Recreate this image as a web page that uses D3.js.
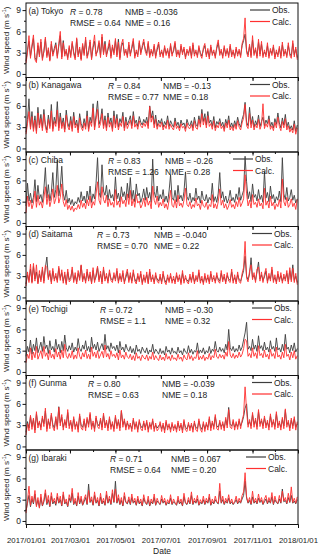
<!DOCTYPE html>
<html><head><meta charset="utf-8">
<script src="https://cdn.jsdelivr.net/npm/d3@7"></script>
<style>body{margin:0;background:#fff}svg{display:block;font-family:"Liberation Sans",Arial,sans-serif}</style>
</head><body><svg id="c" width="320" height="558"></svg>
<script>
// ---------------- DATA ----------------
const startDate = "2017-01-01";   // first sample; samples every 2 days
const stepDays = 2;
const stationNames = ["(a) Tokyo","(b) Kanagawa","(c) Chiba","(d) Saitama","(e) Tochigi","(f) Gunma","(g) Ibaraki"];
const statR    = ["0.78","0.84","0.83","0.73","0.72","0.80","0.71"];
const statRMSE = ["0.64","0.77","1.26","0.70","1.1","0.63","0.64"];
const statNMB  = ["-0.036","-0.13","-0.26","-0.040","-0.30","-0.039","0.067"];
const statNME  = ["0.16","0.18","0.28","0.22","0.32","0.18","0.20"];
const yTickValues = [0,3,6,9];
const yMinorValues = [1.5,4.5,7.5];
const xTickLabels = ["2017/01/01","2017/03/01","2017/05/01","2017/07/01","2017/09/01","2017/11/01","2018/01/01"];
const seriesNames = ["Obs.","Calc."];

const tokyoObs = [1.8,3.4,4.6,2.5,3.8,5.0,2.3,1.9,4.0,2.7, 4.5,2.2,3.1,4.9,2.6,3.4,2.0,4.2,2.8,3.6, 4.4,2.5,3.9,5.4,2.4,4.7,2.8,3.2,2.3,3.7, 2.6,4.3,3.1,2.3,4.9,2.7,3.5,2.1,4.0,2.9, 4.8,2.5,3.3,4.5,2.2,3.7,4.6,2.8,3.2,4.4, 2.6,5.2,3.0,4.6,2.7,3.4,4.3,2.5,3.8,3.0, 4.7,2.7,4.9,2.3,3.9,4.4,2.9,3.2,2.6,4.1, 2.8,3.6,4.6,2.5,3.1,2.7,4.4,3.0,3.7,4.5, 3.5,2.9,4.3,2.6,3.2,2.8,3.9,2.5,3.4,4.2, 2.7,3.1,2.6,3.7,2.9,3.3,2.5,4.0,2.8,3.2, 4.3,2.7,3.1,2.6,3.9,3.0,3.5,2.4,3.2,2.9, 3.6,2.5,4.1,2.8,3.1,2.6,3.7,3.0,2.5,3.4, 4.0,2.7,3.3,2.4,3.8,2.9,3.1,2.5,3.6,4.4, 2.9,3.2,2.5,3.7,2.8,3.3,2.6,3.9,2.7,3.1, 2.5,3.5,2.8,3.2,2.6,4.0,4.7,5.6,3.3,2.7, 3.9,2.6,4.8,2.9,3.4,2.5,4.5,2.8,4.2,2.6, 3.1,2.7,4.0,2.5,3.3,2.9,3.8,2.4,3.1,2.7, 3.6,2.5,4.1,2.8,3.2,2.6,4.0,2.9,2.5,4.3, 2.7,3.5,2.3];
const tokyoCalc = [1.5,3.0,5.4,2.2,4.1,5.5,2.0,1.6,4.4,2.4, 4.9,1.9,3.3,5.2,2.3,3.7,1.8,4.6,2.5,3.3, 4.1,2.2,4.3,6.0,2.1,4.4,2.5,3.5,2.0,4.0, 2.3,4.6,2.8,2.0,5.1,2.4,3.8,1.9,4.3,2.6, 5.2,2.2,3.0,4.8,2.0,4.0,5.5,2.5,3.5,4.7, 2.3,5.6,2.7,4.2,2.4,3.7,4.8,2.2,4.1,2.7, 5.0,2.4,4.5,2.0,4.2,4.9,2.6,3.5,2.3,4.5, 2.5,3.9,5.0,2.2,3.4,2.4,4.7,2.7,4.0,4.9, 3.2,2.6,4.6,2.3,3.5,2.5,4.2,2.2,3.7,4.5, 2.4,3.4,2.3,4.0,2.6,3.6,2.2,4.3,2.5,3.5, 4.6,2.4,3.4,2.3,4.2,2.7,3.8,2.1,3.5,2.6, 3.9,2.2,4.4,2.5,3.4,2.3,4.0,2.7,2.2,3.7, 4.3,2.4,3.6,2.1,4.1,2.6,3.4,2.2,3.9,4.8, 2.6,3.5,2.2,4.0,2.5,3.6,2.3,4.2,2.4,3.4, 2.2,3.8,2.5,3.5,2.3,4.3,5.0,7.9,3.0,2.4, 4.2,2.3,5.4,2.6,3.7,2.2,4.9,2.5,4.6,2.3, 3.4,2.4,4.4,2.2,3.6,2.6,4.1,2.1,3.4,2.4, 3.9,2.2,4.5,2.5,3.5,2.3,4.4,2.6,2.2,4.7, 2.4,3.8,2.0];

const kanagawaObs = [2.3,4.1,7.0,3.0,5.2,2.8,4.6,2.5,5.8,3.3, 4.8,2.9,5.5,3.4,2.6,4.7,3.1,6.2,2.8,4.4, 3.5,6.6,2.9,5.0,3.2,4.3,2.7,5.4,3.6,3.0, 4.5,2.8,5.1,3.3,4.0,2.6,4.9,3.5,2.9,4.2, 3.1,5.3,2.8,4.4,3.6,6.3,3.0,4.7,6.7,3.4, 4.1,5.6,3.2,4.6,2.9,5.0,3.5,4.3,2.8,5.3, 3.4,4.8,3.0,4.2,3.6,5.1,2.9,4.4,3.3,3.9, 4.6,3.2,5.2,3.5,4.0,3.1,4.5,3.7,3.3,4.1, 3.6,4.4,3.2,6.0,4.3,5.3,3.4,4.7,3.1,4.0, 3.5,4.2,3.0,3.8,3.3,4.6,3.1,3.9,3.4,3.0, 4.3,3.2,3.7,2.9,4.0,3.3,3.6,2.8,4.1,3.4, 3.2,3.9,2.9,4.4,3.4,3.1,4.6,3.5,5.5,3.8, 4.9,3.3,5.2,3.6,4.0,3.1,4.5,2.9,3.8,3.4, 4.2,3.2,3.7,2.8,4.1,3.3,4.6,3.0,3.6,2.9, 3.9,3.1,4.4,3.5,3.0,4.1,4.8,6.5,3.7,3.2, 5.8,3.4,4.5,3.0,3.9,3.3,4.7,3.1,3.8,4.4, 3.2,4.0,3.5,4.6,3.1,3.7,2.9,4.2,3.4,5.0, 3.6,2.9,4.3,3.3,4.8,3.0,3.7,2.7,3.2,2.6, 3.9,2.4,3.3];
const kanagawaCalc = [2.0,3.5,5.2,2.7,4.5,2.4,4.0,2.1,5.0,2.9, 4.2,2.5,4.8,3.0,2.2,4.1,2.8,5.3,2.4,3.8, 3.1,5.4,2.5,4.4,2.8,3.7,2.3,4.7,3.1,2.6, 3.9,2.4,4.5,2.9,3.5,2.2,4.3,3.0,2.5,3.6, 2.7,4.6,2.4,3.8,3.1,5.7,2.6,4.1,5.5,2.9, 3.5,4.9,2.8,4.0,2.5,4.4,3.0,3.7,2.4,4.6, 2.9,4.2,2.6,3.6,3.1,4.5,2.5,3.8,2.8,3.4, 4.0,2.8,4.6,3.0,3.5,2.7,3.9,3.2,2.9,3.6, 3.1,3.8,2.8,5.9,3.7,4.6,2.9,4.1,2.7,3.5, 3.0,3.7,2.6,3.3,2.8,4.0,2.7,3.4,2.9,2.6, 3.8,2.8,3.2,2.5,3.5,2.9,3.1,2.4,3.6,2.9, 2.8,3.4,2.5,3.9,2.9,2.7,4.1,3.0,4.9,3.3, 4.3,2.9,4.6,3.1,3.5,2.7,3.9,2.5,3.3,2.9, 3.7,2.8,3.2,2.4,3.6,2.9,4.0,2.6,3.1,2.5, 3.4,2.7,3.9,3.0,2.6,3.6,4.3,6.2,3.2,2.8, 5.0,2.9,4.0,2.6,3.4,2.9,4.1,2.7,3.3,6.3, 2.8,3.5,3.0,4.1,2.7,3.2,2.5,3.7,2.9,4.4, 3.1,2.5,3.8,2.9,4.2,2.6,3.2,2.3,2.8,2.2, 3.4,2.0,2.9];

const chibaObs = [2.4,5.6,3.1,4.2,2.8,3.6,6.1,3.0,5.3,3.4, 4.0,2.9,4.8,7.8,3.5,5.4,3.1,4.3,7.1,3.6, 4.7,8.9,3.8,5.0,8.0,4.1,3.2,4.6,2.8,3.5, 2.6,3.3,2.4,3.0,2.7,3.6,2.9,4.4,3.1,3.8, 2.8,4.5,3.3,5.2,2.9,4.1,3.4,5.6,9.2,4.3, 3.6,8.2,4.5,3.9,5.3,3.2,4.7,3.5,4.0,3.1, 6.5,3.4,4.2,3.0,5.1,3.7,4.4,3.2,5.6,3.5, 6.4,3.3,4.6,3.0,5.5,3.8,4.2,2.9,3.6,4.8, 3.2,5.0,3.5,4.3,2.9,9.0,4.4,3.6,5.2,3.1, 4.0,3.4,4.7,3.0,3.8,2.9,4.5,6.8,3.6,3.2, 4.6,3.0,5.3,3.4,3.9,3.1,4.4,7.2,3.7,3.2, 4.2,2.9,3.6,3.1,4.9,3.3,3.8,2.8,4.5,3.4, 3.1,4.0,2.8,3.6,3.2,5.6,3.0,3.7,2.9,4.2, 7.1,3.5,4.4,3.0,3.8,2.8,3.4,4.6,3.1,3.6, 2.9,4.1,3.3,5.0,3.2,3.9,4.6,9.4,5.8,3.4, 4.4,3.0,5.5,3.6,4.0,3.1,4.7,3.3,3.9,2.9, 7.2,3.5,4.3,3.0,5.2,3.4,4.0,2.8,3.7,3.2, 4.5,3.0,9.2,4.1,3.3,5.0,3.1,3.6,4.7,3.2, 3.9,2.8,3.4];
const chibaCalc = [1.4,3.8,2.3,3.2,2.0,2.8,4.5,2.2,3.9,2.5, 3.0,2.1,3.5,5.1,2.6,4.0,2.3,3.2,4.8,2.7, 3.4,5.3,2.8,3.6,5.5,3.0,2.3,3.3,1.9,2.5, 1.8,2.4,1.6,2.1,1.9,2.6,2.0,3.2,2.2,2.8, 2.0,3.3,2.4,3.8,2.1,3.0,2.5,4.1,5.8,3.2, 2.6,5.1,3.3,2.8,3.9,2.3,3.4,2.5,2.9,2.2, 4.7,2.5,3.1,2.2,3.7,2.7,3.2,2.3,4.1,2.6, 4.6,2.4,3.4,2.2,4.0,2.8,3.1,2.1,2.6,3.5, 2.3,3.6,2.5,3.1,2.0,5.2,3.2,2.6,3.8,2.2, 2.9,2.4,3.4,2.1,2.7,1.9,3.2,4.6,2.5,2.2, 3.3,2.1,3.9,2.4,2.8,2.2,3.2,4.9,2.6,2.3, 3.0,2.0,2.6,2.2,3.5,2.4,2.7,1.9,3.2,2.4, 2.2,2.9,1.9,2.6,2.3,4.0,2.1,2.7,2.0,3.0, 4.8,2.5,3.2,2.1,2.7,1.9,2.4,3.3,2.2,2.6, 2.0,3.0,2.3,3.6,2.3,2.8,3.4,6.8,4.1,2.4, 3.2,2.1,4.0,2.6,2.9,2.2,3.4,2.4,2.8,2.0, 4.9,2.5,3.1,2.1,3.8,2.4,2.9,1.9,2.7,2.3, 3.3,2.1,6.2,3.0,2.4,3.6,2.2,2.6,3.4,2.3, 2.8,1.9,3.3];

const saitamaObs = [1.9,3.2,2.4,4.0,2.2,4.4,2.6,3.6,2.1,3.3, 2.5,3.9,2.3,4.2,5.7,2.8,3.4,2.2,3.7,2.6, 3.0,2.4,4.1,2.7,3.5,2.3,3.2,2.0,3.6,2.5, 2.8,3.9,2.4,3.1,2.2,3.4,2.7,4.5,2.5,3.0, 2.3,3.6,2.6,3.2,2.1,3.8,2.4,2.9,4.2,2.5, 3.3,2.2,3.9,2.6,3.0,2.3,3.5,2.7,2.4,3.1, 2.6,3.7,2.3,3.0,2.5,3.4,2.2,2.8,3.6,2.4, 3.1,2.3,3.5,2.6,2.2,3.0,2.5,3.3,2.1,2.8, 2.4,3.2,2.1,3.6,2.5,2.8,2.2,3.1,2.6,2.3, 2.9,2.2,3.3,2.5,2.1,2.8,2.4,3.0,2.3,2.6, 2.2,3.1,2.5,2.8,2.1,3.4,2.3,2.7,2.5,2.2, 2.9,2.4,3.2,2.2,2.7,2.5,3.5,2.3,2.6,2.1, 3.0,2.4,2.8,2.2,3.3,2.5,2.7,2.3,3.1,2.6, 2.3,3.4,2.5,2.9,2.2,3.1,2.6,2.4,3.6,2.3, 2.8,2.2,3.2,2.5,2.3,3.0,3.8,5.8,3.0,2.5, 3.3,5.6,2.8,3.1,2.4,3.6,5.0,2.6,3.2,2.4, 2.9,3.7,2.3,3.0,2.6,3.9,2.4,2.8,2.2,3.3, 2.5,3.1,2.3,2.9,2.6,3.4,2.2,3.8,2.5,4.6, 2.4,3.0,2.1];
const saitamaCalc = [1.6,3.6,2.1,4.7,2.0,4.8,2.3,4.6,1.9,3.8, 2.2,4.3,2.0,4.5,4.2,2.5,3.8,1.9,4.1,2.3, 3.4,2.1,4.4,2.4,3.9,2.0,3.6,1.8,4.0,2.2, 2.5,4.3,2.1,3.5,1.9,3.8,2.4,4.6,2.2,3.4, 2.0,4.0,2.3,3.6,1.9,4.2,2.1,3.3,4.4,2.2, 3.7,1.9,4.3,2.3,3.4,2.0,3.9,2.4,2.1,3.5, 2.3,4.1,2.0,3.4,2.2,3.8,1.9,3.2,4.0,2.1, 3.5,2.0,3.9,2.3,1.9,3.4,2.2,3.7,1.8,3.2, 2.1,3.6,1.9,4.0,2.2,3.2,1.9,3.5,2.3,2.0, 3.3,1.9,3.7,2.2,1.8,3.2,2.1,3.4,2.0,3.0, 1.9,3.5,2.2,3.2,1.8,3.8,2.0,3.1,2.2,1.9, 3.3,2.1,3.6,1.9,3.1,2.2,3.9,2.0,3.0,1.8, 3.4,2.1,3.2,1.9,3.7,2.2,3.1,2.0,3.5,2.3, 2.0,3.8,2.2,3.3,1.9,3.5,2.3,2.1,4.0,2.0, 3.2,1.9,3.6,2.2,2.0,3.4,4.2,7.9,2.7,2.2, 3.7,4.6,2.5,3.5,2.1,4.0,4.3,2.3,3.6,2.1, 3.3,4.1,2.0,3.4,2.3,4.3,2.1,3.2,1.9,3.7, 2.2,3.5,2.0,3.3,2.3,3.8,1.9,4.2,2.2,4.1, 2.1,3.4,1.8];

const tochigiObs = [2.2,3.6,2.8,4.5,2.5,3.9,3.0,4.8,2.7,3.4, 4.2,2.9,5.0,3.3,3.8,2.6,4.4,3.1,3.6,2.8, 4.6,3.2,3.9,2.7,4.3,3.0,5.2,3.4,2.9,3.7, 3.1,4.1,2.8,3.5,3.0,4.7,3.3,2.9,3.8,3.2, 4.4,3.0,3.6,2.8,4.9,3.3,3.9,3.1,4.2,2.9, 3.5,4.0,3.1,5.3,3.2,3.7,2.9,4.1,3.3,3.6, 3.0,3.8,2.7,4.3,3.1,3.5,2.8,3.9,3.2,2.9, 3.6,2.7,3.3,2.5,3.8,2.9,3.2,2.6,3.5,3.0, 2.7,3.4,2.5,3.1,2.8,3.9,2.6,3.2,2.9,2.5, 3.3,2.6,3.0,2.4,3.6,2.8,3.1,2.5,3.4,2.7, 2.9,2.5,3.5,2.7,3.0,2.4,3.3,2.8,2.6,3.7, 2.7,3.2,2.5,3.0,2.8,4.1,2.6,3.1,2.7,3.4, 2.5,3.0,2.7,3.6,2.6,3.2,2.9,4.3,3.0,2.8, 3.5,2.9,3.3,2.7,3.9,3.1,6.0,3.4,3.0,3.6, 2.8,3.3,2.9,3.8,3.0,3.5,4.5,5.5,7.0,3.2, 3.6,3.0,4.6,3.2,3.8,2.9,5.1,3.3,3.7,3.0, 4.2,3.1,3.5,2.8,4.4,3.2,3.6,2.9,4.8,3.1, 3.4,2.8,3.9,3.0,5.3,3.2,3.5,2.7,3.8,3.0, 4.1,2.8,3.3];
const tochigiCalc = [1.3,2.5,1.9,3.4,1.7,2.8,2.0,3.6,1.8,2.4, 3.0,1.9,3.6,2.2,2.7,1.7,3.1,2.0,2.5,1.8, 3.3,2.1,2.8,1.8,3.1,2.0,3.9,2.3,1.9,2.6, 2.0,3.0,1.8,2.4,1.9,3.4,2.2,1.8,2.7,2.1, 3.1,1.9,2.5,1.8,3.5,2.2,2.8,2.0,3.0,1.9, 2.4,2.9,2.0,3.8,2.1,2.6,1.8,3.0,2.2,2.5, 2.0,2.7,1.7,3.1,2.0,2.4,1.8,2.8,2.1,1.9, 2.5,1.7,2.3,1.6,2.7,1.9,2.2,1.6,2.4,2.0, 1.8,2.4,1.6,2.2,1.8,2.8,1.7,2.3,1.9,1.6, 2.4,1.7,2.1,1.6,2.6,1.8,2.2,1.6,2.4,1.8, 2.0,1.6,2.5,1.8,2.1,1.5,2.4,1.9,1.7,2.7, 1.8,2.3,1.6,2.1,1.9,3.0,1.7,2.2,1.8,2.4, 1.6,2.1,1.8,2.6,1.7,2.3,2.0,3.2,2.1,1.9, 2.5,2.0,2.4,1.8,2.8,2.2,4.3,2.4,2.0,2.6, 1.9,2.4,2.0,2.8,2.1,2.5,3.3,4.6,4.4,2.2, 2.6,2.0,3.4,2.2,2.7,1.9,3.7,2.3,2.6,2.0, 3.1,2.1,2.5,1.8,3.2,2.2,2.6,1.9,3.5,2.1, 2.4,1.8,2.8,2.0,3.9,2.2,2.5,1.7,2.8,2.0, 3.0,1.8,2.3];

const gunmaObs = [2.0,3.5,2.6,4.2,2.8,3.8,2.3,4.6,3.0,3.4, 2.7,4.0,3.2,5.0,2.5,3.6,2.9,4.4,3.1,2.6, 3.9,2.8,5.6,3.3,4.1,2.7,3.5,3.0,4.8,2.9, 3.4,2.5,3.9,2.8,3.2,2.4,4.3,3.0,2.7,3.6, 2.6,3.8,3.1,4.5,2.8,3.3,2.5,4.0,3.2,2.9, 3.7,2.7,4.4,3.0,3.4,2.6,3.9,2.8,3.2,2.5, 4.1,2.9,3.5,2.6,5.0,3.1,3.6,2.7,3.3,2.8, 3.0,2.5,3.7,2.8,3.2,2.4,3.5,2.9,2.6,3.3, 2.7,3.4,2.4,3.1,2.8,3.6,2.5,3.0,2.6,2.9, 3.2,2.5,3.0,2.3,3.4,2.7,2.9,2.4,3.1,2.6, 2.8,2.4,3.3,2.6,3.0,2.3,3.5,2.7,2.5,3.1, 2.6,3.0,2.4,3.3,2.7,2.5,3.6,2.8,2.4,3.2, 2.5,3.1,2.7,3.9,2.6,3.3,2.8,4.2,2.9,2.7, 3.4,2.8,3.2,2.6,3.8,3.0,5.5,3.1,2.9,3.5, 2.7,3.2,2.8,3.6,2.9,3.4,4.2,5.4,6.0,3.1, 3.5,2.9,4.5,3.1,3.7,2.8,4.9,3.2,3.6,2.9, 4.0,3.0,3.4,2.7,4.3,3.1,3.5,2.8,4.6,3.0, 3.3,2.7,3.8,2.9,5.1,3.1,3.4,2.6,3.7,2.9, 3.9,2.7,3.2];
const gunmaCalc = [1.6,3.2,2.2,4.4,2.4,4.0,1.9,4.9,2.6,3.6, 2.3,4.3,2.8,5.4,2.1,3.9,2.5,4.7,2.7,2.2, 4.2,2.4,5.5,2.9,4.5,2.3,3.8,2.6,5.2,2.5, 3.7,2.1,4.2,2.4,3.5,2.0,4.6,2.6,2.3,3.9, 2.2,4.1,2.7,4.8,2.4,3.6,2.1,4.3,2.8,2.5, 4.0,2.3,4.7,2.6,3.7,2.2,4.2,2.4,3.5,2.1, 4.4,2.5,3.8,2.2,5.1,2.7,3.9,2.3,3.6,2.4, 3.3,2.1,4.0,2.4,3.5,2.0,3.8,2.5,2.2,3.6, 2.3,3.7,2.0,3.4,2.4,3.9,2.1,3.3,2.2,2.5, 3.5,2.1,3.3,1.9,3.7,2.3,3.2,2.0,3.4,2.2, 3.1,2.0,3.6,2.2,3.3,1.9,3.8,2.3,2.1,3.4, 2.2,3.3,2.0,3.6,2.3,2.1,3.9,2.4,2.0,3.5, 2.1,3.4,2.3,4.2,2.2,3.6,2.4,4.5,2.5,2.3, 3.7,2.4,3.5,2.2,4.1,2.6,5.2,2.7,2.5,3.8, 2.3,3.5,2.4,3.9,2.5,3.7,4.5,8.4,5.0,2.7, 3.8,2.5,4.8,2.7,4.0,2.4,5.2,2.8,3.9,2.5, 4.3,2.6,3.7,2.3,4.6,2.7,3.8,2.4,4.9,2.6, 3.6,2.3,4.1,2.5,5.3,2.7,3.7,2.2,4.0,2.5, 4.2,2.3,3.5];

const ibarakiObs = [1.4,2.5,3.6,2.0,3.1,2.4,3.8,2.2,2.9,1.9, 3.3,2.1,2.7,3.9,2.3,3.0,2.0,3.5,2.4,2.8, 2.2,3.4,2.5,3.0,2.1,3.7,2.4,2.7,2.0,3.2, 2.6,3.9,2.3,2.8,2.1,3.5,2.4,3.1,2.2,2.7, 3.3,2.3,5.2,2.6,3.0,2.2,3.6,2.5,2.9,2.1, 3.4,2.4,2.8,2.2,3.7,2.5,3.1,2.3,3.9,2.6, 5.6,2.5,3.2,2.3,2.9,2.1,3.5,2.6,2.4,3.0, 2.3,3.3,2.5,2.8,2.2,3.1,2.4,2.7,2.1,3.2, 2.6,2.3,3.0,2.1,2.7,2.4,3.3,2.2,2.8,2.5, 2.3,3.1,2.5,2.8,2.2,2.6,2.4,3.2,2.3,2.7, 2.5,2.2,3.0,2.4,2.7,2.1,3.4,2.5,2.3,2.9, 2.4,3.6,2.3,2.8,2.5,3.1,2.2,2.6,2.4,3.0, 2.3,2.8,2.5,3.3,2.2,2.7,2.4,3.0,2.6,2.4, 4.2,2.5,3.0,2.3,2.8,2.5,3.2,2.4,2.7,2.3, 2.6,3.0,2.4,2.8,2.5,3.1,3.6,5.6,3.2,2.5, 2.9,2.3,3.4,2.5,2.8,2.4,3.2,2.6,2.9,2.3, 2.7,3.1,2.4,2.9,2.5,3.4,2.3,3.0,2.6,2.4, 3.1,2.5,4.5,2.7,2.9,2.4,3.3,2.6,3.6,2.5, 2.8,2.4,3.0];
const ibarakiCalc = [1.1,2.9,4.9,2.2,3.5,2.6,4.3,2.0,3.3,1.8, 3.8,2.2,3.0,4.4,2.5,3.6,2.1,4.0,2.6,3.2, 2.4,3.9,2.6,3.5,2.2,4.1,2.5,3.1,2.1,3.7, 2.8,4.6,2.4,3.2,2.2,4.0,2.5,3.5,2.3,3.1, 3.7,2.4,4.3,2.7,3.4,2.3,4.1,2.6,3.3,2.2, 3.9,2.5,3.2,2.3,4.2,2.6,3.5,2.4,4.4,2.7, 4.5,2.6,3.7,2.4,3.3,2.2,4.0,2.7,2.5,3.4, 2.4,3.8,2.6,3.2,2.3,3.5,2.5,3.1,2.2,3.7, 2.7,2.4,3.5,2.2,3.1,2.5,3.8,2.3,3.2,2.6, 2.4,3.6,2.6,3.2,2.3,3.0,2.5,3.7,2.4,3.1, 2.6,2.3,3.5,2.5,3.1,2.2,3.9,2.6,2.4,3.3, 2.5,4.1,2.4,3.2,2.6,3.6,2.3,3.0,2.5,3.5, 2.4,3.2,2.6,3.8,2.3,3.1,2.5,3.5,2.7,2.5, 5.3,2.6,3.5,2.4,3.2,2.6,3.7,2.5,3.1,2.4, 2.7,3.5,2.5,3.2,2.6,3.6,4.1,6.8,3.4,2.6, 3.3,2.4,4.2,2.6,3.2,2.5,3.8,2.7,3.3,2.4, 3.1,3.6,2.5,3.3,2.6,4.0,2.4,3.5,2.7,2.5, 3.6,2.6,4.2,2.8,3.3,2.5,3.9,2.7,4.8,2.6, 3.2,2.5,3.4];

const obsSeries  = [tokyoObs, kanagawaObs, chibaObs, saitamaObs, tochigiObs, gunmaObs, ibarakiObs];
const calcSeries = [tokyoCalc, kanagawaCalc, chibaCalc, saitamaCalc, tochigiCalc, gunmaCalc, ibarakiCalc];

// ---------------- LAYOUT ----------------
const layout = {
  left: 26, right: 298, top: 3, panelH: 74.5,
  statX1: [70,108,108,97,100,88,110],
  statX2: [125,163,165,154,165,162,171],
  legX:   [250,250,233,252,252,252,246]
};
const colObs = "#3d3d3d", colCalc = "#ff3030";

const svg = d3.select("#c");
const t0 = d3.timeParse("%Y-%m-%d")(startDate);
const x = d3.scaleTime().domain([new Date(2017,0,1), new Date(2018,0,1)]).range([layout.left, layout.right]);
const fmt = d3.timeFormat("%Y/%m/%d");

for (let k = 0; k < 7; k++) {
  const top = layout.top + k*layout.panelH, bot = top + layout.panelH;
  const y = d3.scaleLinear().domain([-0.5, 10]).range([bot, top]);
  const g = svg.append("g");
  const line = d3.line().x((d,i) => x(d3.timeDay.offset(t0, i*stepDays))).y(d => y(d));
  g.append("path").datum(obsSeries[k]).attr("d", line).attr("fill","none")
    .attr("stroke", colObs).attr("stroke-width", 0.9).attr("stroke-linejoin","round");
  g.append("path").datum(calcSeries[k]).attr("d", line).attr("fill","none")
    .attr("stroke", colCalc).attr("stroke-width", 0.9).attr("stroke-linejoin","round");

  // y axis
  const ya = g.append("g").attr("transform", `translate(${layout.left},0)`)
    .call(d3.axisLeft(y).tickValues(yTickValues).tickSize(3.5).tickPadding(1.5));
  ya.select(".domain").remove();
  ya.selectAll("text").attr("font-size", 8.5).attr("font-family", "Liberation Sans, Arial, sans-serif").attr("fill","#222");
  ya.selectAll("line").attr("stroke","#111");
  const ym = g.append("g").attr("transform", `translate(${layout.left},0)`)
    .call(d3.axisLeft(y).tickValues(yMinorValues).tickSize(2).tickFormat(""));
  ym.select(".domain").remove();
  ym.selectAll("line").attr("stroke","#111");

  // x axis
  const xa = g.append("g").attr("transform", `translate(0,${bot})`)
    .call(d3.axisBottom(x).ticks(d3.timeMonth.every(2)).tickSize(3.5).tickPadding(9)
      .tickFormat((d,i) => k === 6 ? xTickLabels[i] : ""));
  xa.select(".domain").remove();
  xa.selectAll("text").attr("font-size", 7.8).attr("font-family", "Liberation Sans, Arial, sans-serif").attr("fill","#222");
  xa.selectAll("line").attr("stroke","#111");
  const xm = g.append("g").attr("transform", `translate(0,${bot})`)
    .call(d3.axisBottom(x).ticks(d3.timeMonth.every(1)).tickSize(2).tickFormat(""));
  xm.select(".domain").remove();
  xm.selectAll("line").attr("stroke","#111");

  // frame
  g.append("rect").attr("x", layout.left).attr("y", top).attr("width", layout.right-layout.left)
    .attr("height", layout.panelH).attr("fill","none").attr("stroke","#111").attr("stroke-width",1);

  // y label
  const yl = g.append("text").attr("transform", `translate(9,${(top+bot)/2}) rotate(-90)`)
    .attr("text-anchor","middle").attr("font-size", 8).attr("fill","#222");
  yl.append("tspan").text("Wind speed (m s");
  yl.append("tspan").text("-1").attr("font-size", 5.5).attr("dy", -3);
  yl.append("tspan").text(")").attr("dy", 3);

  // station label
  g.append("text").attr("x", layout.left + 2.5).attr("y", top + 10.5).attr("font-size", 8.5)
    .attr("fill","#222").text(stationNames[k]);

  // stats
  const s1 = g.append("text").attr("x", layout.statX1[k]).attr("y", top + 11.5).attr("font-size", 8.5).attr("fill","#222");
  s1.append("tspan").attr("font-style","italic").text("R");
  s1.append("tspan").text(" = " + statR[k]);
  g.append("text").attr("x", layout.statX1[k]).attr("y", top + 22.5).attr("font-size", 8.5).attr("fill","#222")
    .text("RMSE = " + statRMSE[k]);
  g.append("text").attr("x", layout.statX2[k]).attr("y", top + 11.5).attr("font-size", 8.5).attr("fill","#222")
    .text("NMB = " + statNMB[k]);
  g.append("text").attr("x", layout.statX2[k]).attr("y", top + 22.5).attr("font-size", 8.5).attr("fill","#222")
    .text("NME = " + statNME[k]);

  // legend
  [colObs, colCalc].forEach((c, j) => {
    const ly = top + 7 + j*11.5;
    g.append("line").attr("x1", layout.legX[k]).attr("x2", layout.legX[k] + 20).attr("y1", ly).attr("y2", ly)
      .attr("stroke", c).attr("stroke-width", 1.2);
    g.append("text").attr("x", layout.legX[k] + 22).attr("y", ly + 3).attr("font-size", 8.5).attr("fill","#222")
      .text(seriesNames[j]);
  });
}

// x axis title
svg.append("text").attr("x", (layout.left+layout.right)/2).attr("y", 554).attr("text-anchor","middle")
  .attr("font-size", 8.5).attr("fill","#222").text("Date");
</script>
</body></html>
